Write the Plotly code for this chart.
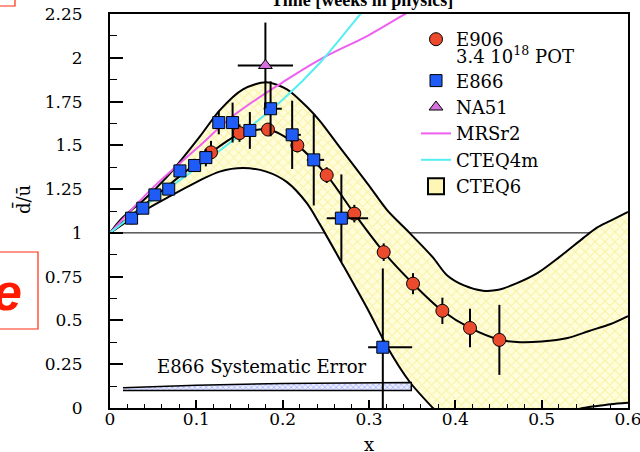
import plotly.graph_objects as go

# ---------------- data ----------------
e906_x = [0.117, 0.150, 0.183, 0.217, 0.251, 0.283, 0.317, 0.351, 0.385, 0.417, 0.451]
e906_y = [1.46, 1.57, 1.59, 1.50, 1.33, 1.11, 0.89, 0.71, 0.555, 0.457, 0.389]
e906_err = [0.065, 0.05, 0.03, 0.04, 0.045, 0.05, 0.05, 0.06, 0.075, 0.11, 0.2]

e866_x = [0.025, 0.038, 0.052, 0.068, 0.081, 0.098, 0.111, 0.126, 0.142, 0.162,
          0.186, 0.211, 0.236, 0.268, 0.316]
e866_y = [1.084, 1.141, 1.217, 1.25, 1.354, 1.385, 1.43, 1.63, 1.63, 1.585,
          1.709, 1.56, 1.417, 1.084, 0.347]
e866_err = [0.035, 0.03, 0.03, 0.03, 0.03, 0.038, 0.05, 0.067, 0.114, 0.105,
            0.157, 0.195, 0.26, 0.25, 0.45]
e866_xerr_minus = [0.005] * 10 + [0.008, 0.007, 0.008, 0.017, 0.017]
e866_xerr_plus = [0.005] * 10 + [0.013, 0.010, 0.012, 0.031, 0.034]

na51_x = [0.18]
na51_y = [1.956]
na51_err = [0.245]
na51_xerr = [0.032]

mrs_x = [0.0, 0.05, 0.10, 0.143, 0.20, 0.243, 0.30, 0.34, 0.36]
mrs_y = [1.0, 1.26, 1.48, 1.67, 1.86, 1.99, 2.13, 2.245, 2.30]

cteq4_x = [0.0, 0.05, 0.10, 0.143, 0.20, 0.243, 0.29, 0.30]
cteq4_y = [1.0, 1.19, 1.37, 1.53, 1.76, 1.97, 2.25, 2.31]

cteq6_x = [0.0, 0.012, 0.027, 0.035, 0.066, 0.104, 0.127, 0.154, 0.181, 0.205, 0.228,
           0.243, 0.266, 0.30, 0.321, 0.347, 0.374, 0.39, 0.41, 0.432, 0.45, 0.47,
           0.495, 0.52, 0.548, 0.564, 0.58, 0.6]
cteq6_upper = [1.0, 1.074, 1.14, 1.17, 1.32, 1.55, 1.70, 1.82, 1.86, 1.82, 1.72,
               1.64, 1.49, 1.27, 1.13, 1.0, 0.86, 0.76, 0.70, 0.67, 0.675, 0.71,
               0.77, 0.86, 0.97, 1.03, 1.07, 1.12]
cteq6_lower = [1.0, 1.04, 1.09, 1.115, 1.20, 1.30, 1.35, 1.37, 1.35, 1.29, 1.17,
               1.05, 0.85, 0.55, 0.35, 0.15, 0.0, -0.08, -0.13, -0.16, -0.17, -0.15,
               -0.1, -0.04, 0.0, 0.012, 0.022, 0.03]

central_x = [0.0, 0.03, 0.06, 0.09, 0.117, 0.15, 0.183, 0.217, 0.251, 0.283, 0.317,
             0.351, 0.385, 0.417, 0.451, 0.475, 0.5, 0.53, 0.555, 0.58, 0.6]
central_y = [1.0, 1.12, 1.24, 1.36, 1.46, 1.565, 1.59, 1.50, 1.33, 1.11, 0.89,
             0.71, 0.555, 0.457, 0.39, 0.376, 0.38, 0.40, 0.44, 0.48, 0.525]

syst_x = [0.015, 0.10, 0.20, 0.349]
syst_top = [0.115, 0.13, 0.14, 0.145]
syst_bottom = [0.10, 0.10, 0.10, 0.10]

x_ticks = [0, 0.1, 0.2, 0.3, 0.4, 0.5, 0.6]
x_ticklabels = ["0", "0.1", "0.2", "0.3", "0.4", "0.5", "0.6"]
y_ticks = [0, 0.25, 0.5, 0.75, 1, 1.25, 1.5, 1.75, 2, 2.25]
y_ticklabels = ["0", "0.25", "0.5", "0.75", "1", "1.25", "1.5", "1.75", "2", "2.25"]

SERIF = "DejaVu Serif"

fig = go.Figure()

# CTEQ6 band
fig.add_trace(go.Scatter(x=cteq6_x, y=cteq6_lower, mode="lines",
                         line=dict(color="black", width=2, shape="spline", smoothing=0.8),
                         showlegend=False, hoverinfo="skip"))
fig.add_trace(go.Scatter(x=cteq6_x, y=cteq6_upper, mode="lines", fill="tonexty",
                         fillcolor="rgba(255,252,215,1)",
                         fillpattern=dict(shape="x", fgcolor="#f2e66a", bgcolor="#fffddc",
                                          size=7, solidity=0.3),
                         line=dict(color="black", width=2, shape="spline", smoothing=0.8),
                         showlegend=False, hoverinfo="skip"))
fig.add_trace(go.Scatter(x=central_x, y=central_y, mode="lines",
                         line=dict(color="black", width=2, shape="spline", smoothing=0.8),
                         showlegend=False, hoverinfo="skip"))

# E866 systematic error band
fig.add_trace(go.Scatter(x=syst_x + syst_x[::-1], y=syst_top + syst_bottom[::-1],
                         mode="lines", fill="toself",
                         fillpattern=dict(shape="x", fgcolor="#5060ff", bgcolor="#e8ecff",
                                          size=4, solidity=0.3),
                         line=dict(color="black", width=1.5), showlegend=False,
                         hoverinfo="skip"))

# model curves
fig.add_trace(go.Scatter(x=mrs_x, y=mrs_y, mode="lines", name="MRSr2",
                         line=dict(color="#ee5ff0", width=2, shape="spline"),
                         legendgroup="g2", legendrank=4))
fig.add_trace(go.Scatter(x=cteq4_x, y=cteq4_y, mode="lines", name="CTEQ4m",
                         line=dict(color="#55eef2", width=2, shape="spline"),
                         legendgroup="g2", legendrank=5))

# data
fig.add_trace(go.Scatter(x=e906_x, y=e906_y, mode="markers", name="E906",
                         marker=dict(symbol="circle", size=13, color="#ec4a2c",
                                     line=dict(color="black", width=1)),
                         error_y=dict(type="data", array=e906_err, color="black",
                                      thickness=2, width=0),
                         legendgroup="g1", legendrank=1))
fig.add_trace(go.Scatter(x=e866_x, y=e866_y, mode="markers", name="E866",
                         marker=dict(symbol="square", size=12, color="#1f5cf5",
                                     line=dict(color="black", width=1)),
                         error_y=dict(type="data", array=e866_err, color="black",
                                      thickness=2, width=0),
                         error_x=dict(type="data", array=e866_xerr_plus,
                                      arrayminus=e866_xerr_minus, color="black",
                                      thickness=2, width=0),
                         legendgroup="g2", legendrank=2))
fig.add_trace(go.Scatter(x=na51_x, y=na51_y, mode="markers", name="NA51",
                         marker=dict(symbol="triangle-up", size=12, color="#d870e0",
                                     line=dict(color="black", width=1)),
                         error_y=dict(type="data", array=na51_err, color="black",
                                      thickness=2, width=0),
                         error_x=dict(type="data", array=na51_xerr, color="black",
                                      thickness=2, width=0),
                         legendgroup="g2", legendrank=3))
# legend swatch for CTEQ6
fig.add_trace(go.Scatter(x=[None], y=[None], mode="markers", name="CTEQ6",
                         marker=dict(symbol="square", size=16, color="#fdf6b4",
                                     line=dict(color="black", width=2)),
                         legendgroup="g2", legendrank=6))

fig.add_shape(type="line", xref="x", yref="y", x0=0, x1=0.6, y0=1, y1=1,
              line=dict(color="black", width=1), layer="below")

# red boxes (cropped decorations)
W, H = 518.0, 394.0
def px_to_paper_x(p):
    return (p - 110) / W
def py_to_paper_y(p):
    return (408 - p) / H

fig.add_shape(type="rect", xref="paper", yref="paper",
              x0=px_to_paper_x(-20), x1=px_to_paper_x(38),
              y0=py_to_paper_y(329), y1=py_to_paper_y(252),
              line=dict(color="#ff2a10", width=1.2))
fig.add_shape(type="rect", xref="paper", yref="paper",
              x0=px_to_paper_x(-20), x1=px_to_paper_x(15),
              y0=py_to_paper_y(6), y1=py_to_paper_y(-30),
              line=dict(color="#ff2a10", width=1.2))

fig.add_annotation(text="<b><i>e</i></b>", xref="paper", yref="paper",
                   x=px_to_paper_x(24), y=py_to_paper_y(292), xanchor="right",
                   yanchor="middle", showarrow=False,
                   font=dict(family="Liberation Sans", size=52, color="#ff1a00"))

# title (cropped at top)
fig.add_annotation(text="<b>Time [weeks in physics]</b>", xref="paper", yref="paper",
                   x=px_to_paper_x(362), y=py_to_paper_y(0), xanchor="center",
                   yanchor="middle", showarrow=False,
                   font=dict(family="Liberation Serif", size=18, color="black"))

# axis titles
fig.add_annotation(text="d\u0304/u\u0304", xref="paper", yref="paper",
                   x=px_to_paper_x(22), y=py_to_paper_y(200), textangle=-90,
                   xanchor="center", yanchor="middle", showarrow=False,
                   font=dict(family=SERIF, size=18, color="black"))
fig.add_annotation(text="x", xref="paper", yref="paper",
                   x=px_to_paper_x(369), y=py_to_paper_y(444), xanchor="center",
                   yanchor="middle", showarrow=False,
                   font=dict(family=SERIF, size=18, color="black"))

# systematic error label
fig.add_annotation(text="E866 Systematic Error", xref="x", yref="y",
                   x=0.176, y=0.235, xanchor="center", yanchor="middle",
                   showarrow=False, font=dict(family=SERIF, size=18, color="black"))

# second line of E906 legend entry
fig.add_annotation(text="3.4 10<sup>18</sup> POT", xref="paper", yref="paper",
                   x=px_to_paper_x(454), y=py_to_paper_y(55), xanchor="left",
                   yanchor="middle", showarrow=False,
                   font=dict(family=SERIF, size=18, color="black"))

fig.update_layout(
    width=640, height=452,
    margin=dict(l=110, r=12, t=14, b=44),
    paper_bgcolor="white", plot_bgcolor="white",
    font=dict(family=SERIF, size=17, color="black"),
    showlegend=True,
    legend=dict(x=px_to_paper_x(416), y=py_to_paper_y(21), xanchor="left",
                yanchor="top", bgcolor="rgba(0,0,0,0)", borderwidth=0,
                font=dict(family=SERIF, size=18, color="black"),
                tracegroupgap=15, traceorder="grouped"),
)

fig.update_xaxes(range=[0, 0.6], tickvals=x_ticks, ticktext=x_ticklabels,
                 ticks="inside", ticklen=8, tickwidth=1.5, tickcolor="black",
                 minor=dict(dtick=0.02, ticks="inside", ticklen=4, tickwidth=1.2,
                            tickcolor="black"),
                 showline=True, linecolor="black", linewidth=2, mirror=True,
                 showgrid=False, zeroline=False, automargin=False,
                 ticklabeloverflow="allow", ticklabelstandoff=-5,
                 tickfont=dict(family=SERIF, size=17, color="black"))
fig.update_yaxes(range=[0, 2.25], tickvals=y_ticks, ticktext=y_ticklabels,
                 ticks="inside", ticklen=13, tickwidth=1.5, tickcolor="black",
                 minor=dict(dtick=0.125, ticks="inside", ticklen=7, tickwidth=1.2,
                            tickcolor="black"),
                 showline=True, linecolor="black", linewidth=2, mirror=True,
                 showgrid=False, zeroline=False, ticklabelstandoff=22, automargin=False,
                 ticklabeloverflow="allow",
                 tickfont=dict(family=SERIF, size=17, color="black"))

fig.write_html("out.html")
